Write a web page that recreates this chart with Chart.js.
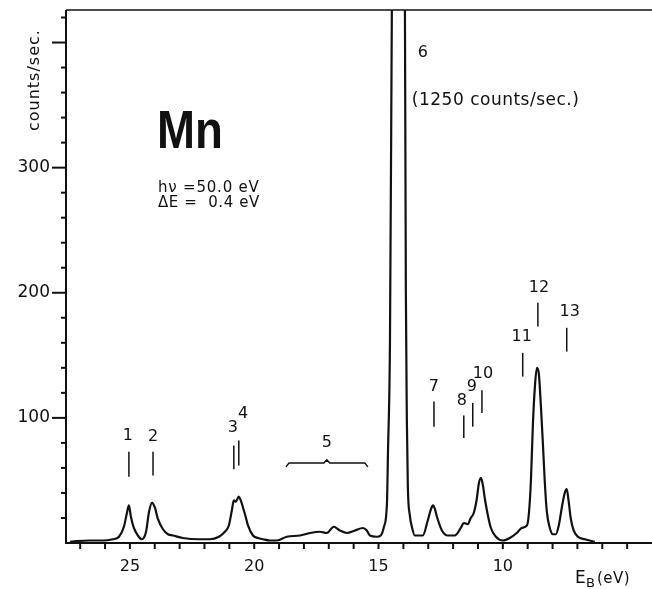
<!DOCTYPE html>
<html>
<head>
<meta charset="utf-8">
<script src="https://cdn.jsdelivr.net/npm/chart.js@4/dist/chart.umd.min.js"></script>
<style>
  html, body { margin: 0; padding: 0; background: #fff; }
  #wrap { width: 652px; height: 589px; }
</style>
</head>
<body>
<div id="wrap"><canvas id="spectrum" width="652" height="589"></canvas></div>
<script>
// Mn photoemission spectrum, hv = 50 eV
const energy = [
  27.41, 27.17, 26.61, 26.20, 25.68, 25.44, 25.24, 25.12, 25.04, 24.96,
  24.84, 24.68, 24.52, 24.35, 24.23, 24.11, 23.99, 23.87, 23.67, 23.47,
  23.27, 22.87, 22.22, 21.78, 21.42, 21.18, 21.02, 20.90, 20.82, 20.74,
  20.62, 20.54, 20.46, 20.33, 20.25, 20.05, 19.85, 19.65, 19.37, 19.09,
  18.69, 18.16, 17.76, 17.36, 17.08, 16.80, 16.55, 16.27, 15.95, 15.63,
  15.47, 15.35, 15.07, 14.91, 14.78, 14.66, 14.62, 14.54, 14.46, 14.20,
  13.94, 13.90, 13.86, 13.82, 13.74, 13.66, 13.54, 13.22, 13.02, 12.89,
  12.81, 12.73, 12.65, 12.45, 12.21, 11.93, 11.69, 11.57, 11.41, 11.29,
  11.17, 11.05, 10.97, 10.88, 10.80, 10.72, 10.60, 10.48, 10.28, 10.00,
  9.72, 9.44, 9.24, 9.03, 8.95, 8.87, 8.79, 8.71, 8.63, 8.55,
  8.47, 8.39, 8.31, 8.23, 8.11, 7.99, 7.87, 7.75, 7.63, 7.51,
  7.43, 7.35, 7.27, 7.15, 6.98, 6.70, 6.30
];
const counts = [
  1, 1.5, 2, 2, 3, 5, 13, 24, 30, 21,
  12, 6, 3, 9, 25, 32, 28, 19, 11, 7,
  6, 4, 3, 3, 5, 9, 14, 26, 34, 33,
  37, 34, 29, 20, 14, 6, 4, 3, 2, 2,
  5, 6, 8, 9, 8, 13, 10, 8, 10, 12,
  10, 6, 5, 6, 13, 32, 72, 160, 440, 1250,
  440, 200, 98, 45, 22, 13, 6, 6, 18, 27,
  30, 27, 21, 10, 6, 6, 12, 16, 15, 20,
  24, 35, 47, 52, 46, 35, 22, 12, 5, 2,
  4, 8, 12, 14, 24, 50, 95, 125, 140, 135,
  110, 80, 48, 25, 12, 7, 7, 14, 28, 40,
  43, 33, 20, 10, 5, 3, 1
];

// axis ranges and ticks
const eMin = 4, eMax = 27.57;
const cMax = 426;
const eLabels = [25, 20, 15, 10];
const cLabels = [100, 200, 300];
const cMajor = [100, 200, 300, 400];

// peak numbering: label anchor (eV, counts) and marker line (eV, from, to)
const peakNames = ['1', '2', '3', '4', '7', '8', '9', '10', '11', '12', '13'];
const nameE     = [25.08, 24.07, 20.86, 20.45, 12.77, 11.65, 11.25, 10.80, 9.24, 8.55, 7.31];
const nameC     = [86, 85, 92, 103, 125, 114, 125, 135, 165, 204, 185];
const markE     = [25.04, 24.07, 20.82, 20.62, 12.77, 11.57, 11.21, 10.84, 9.20, 8.59, 7.43];
const markTop   = [73, 73, 78, 82, 113, 102, 112, 122, 152, 192, 172];
const markBot   = [53, 54, 59, 62, 93, 84, 93, 104, 133, 173, 153];

// band 5 bracket
const band5 = { from: 18.72, to: 15.43, mid: 17.08, level: 64 };

const ink = '#111';

function text(ctx, str, px, py, font, align, base, spacing) {
  ctx.font = font;
  ctx.textAlign = align || 'center';
  ctx.textBaseline = base || 'middle';
  ctx.letterSpacing = spacing || '0px';
  ctx.fillText(str, px, py);
  ctx.letterSpacing = '0px';
}

// keep the plot area fixed: no extra room for tick labels
function fixBox(size) {
  return s => {
    if (s.isHorizontal()) s.height = size; else s.width = size;
    s.paddingTop = s.paddingBottom = s.paddingLeft = s.paddingRight = 0;
  };
}

const decorations = {
  id: 'decorations',
  afterDraw(chart) {
    const { ctx, chartArea: a, scales: { x, y } } = chart;
    ctx.save();
    ctx.strokeStyle = ink;
    ctx.fillStyle = ink;
    ctx.lineCap = 'butt';

    // frame: left axis, bottom axis, top rule
    ctx.lineWidth = 2;
    ctx.beginPath();
    ctx.moveTo(a.left, a.top);
    ctx.lineTo(a.left, a.bottom);
    ctx.lineTo(a.right, a.bottom);
    ctx.stroke();
    ctx.lineWidth = 1.5;
    ctx.beginPath();
    ctx.moveTo(a.left, a.top);
    ctx.lineTo(a.right, a.top);
    ctx.stroke();

    // y ticks, every 20 counts
    ctx.lineWidth = 2;
    for (let c = 20; c <= cMax; c += 20) {
      const py = y.getPixelForValue(c);
      const len = cMajor.includes(c) ? 14 : 5;
      ctx.beginPath();
      ctx.moveTo(a.left - len, py);
      ctx.lineTo(a.left, py);
      ctx.stroke();
    }
    // x ticks, every 1 eV
    for (let e = 5; e <= 27; e++) {
      const px = x.getPixelForValue(e);
      ctx.beginPath();
      ctx.moveTo(px, a.bottom);
      ctx.lineTo(px, a.bottom + 6);
      ctx.stroke();
    }

    // peak markers and numbers
    ctx.lineWidth = 1.5;
    peakNames.forEach((n, i) => {
      const px = x.getPixelForValue(markE[i]);
      ctx.beginPath();
      ctx.moveTo(px, y.getPixelForValue(markTop[i]));
      ctx.lineTo(px, y.getPixelForValue(markBot[i]));
      ctx.stroke();
      text(ctx, n, x.getPixelForValue(nameE[i]), y.getPixelForValue(nameC[i]), '16px "DejaVu Sans"');
    });

    // bracket over band 5
    const b0 = x.getPixelForValue(band5.from);
    const b1 = x.getPixelForValue(band5.to);
    const bm = x.getPixelForValue(band5.mid);
    const by = y.getPixelForValue(band5.level);
    ctx.beginPath();
    ctx.moveTo(b0, by + 4);
    ctx.lineTo(b0 + 3, by);
    ctx.lineTo(bm - 3, by);
    ctx.lineTo(bm, by - 3);
    ctx.lineTo(bm + 3, by);
    ctx.lineTo(b1 - 3, by);
    ctx.lineTo(b1, by + 4);
    ctx.stroke();
    text(ctx, '5', bm, y.getPixelForValue(80), '16px "DejaVu Sans"');

    // peak 6 runs off scale
    text(ctx, '6', x.getPixelForValue(13.22), y.getPixelForValue(392), '16px "DejaVu Sans"');
    text(ctx, '(1250 counts/sec.)', x.getPixelForValue(13.66), y.getPixelForValue(354),
      '17px "DejaVu Sans"', 'left', 'middle', '0.5px');

    // element symbol, condensed bold
    ctx.save();
    ctx.translate(x.getPixelForValue(23.91), y.getPixelForValue(316));
    ctx.scale(0.86, 1);
    text(ctx, 'Mn', 0, 0, 'bold 53px "Liberation Sans", sans-serif', 'left', 'alphabetic');
    ctx.restore();

    // measurement conditions
    text(ctx, 'h\u03bd =50.0 eV', x.getPixelForValue(23.87), y.getPixelForValue(284),
      '15px "DejaVu Sans"', 'left', 'middle', '0.8px');
    text(ctx, '\u0394E =  0.4 eV', x.getPixelForValue(23.87), y.getPixelForValue(272),
      '15px "DejaVu Sans"', 'left', 'middle', '0.6px');

    // y axis title, rotated at the top of the axis
    ctx.save();
    ctx.translate(a.left - 31, y.getPixelForValue(370));
    ctx.rotate(-Math.PI / 2);
    text(ctx, 'counts/sec.', 0, 0, '16px "DejaVu Sans"', 'center', 'middle', '1px');
    ctx.restore();

    // x axis title E_B (eV)
    const tx = 575, ty = a.bottom + 40;
    text(ctx, 'E', tx, ty, '17px "DejaVu Sans"', 'left', 'alphabetic');
    text(ctx, 'B', tx + 11, ty + 4, '13px "DejaVu Sans"', 'left', 'alphabetic');
    text(ctx, '(eV)', tx + 22, ty, '15px "DejaVu Sans"', 'left', 'alphabetic', '0.5px');

    ctx.restore();
  }
};

const points = energy.map((e, i) => ({ x: e, y: counts[i] }));

new Chart(document.getElementById('spectrum'), {
  type: 'line',
  data: {
    datasets: [{
      data: points,
      borderColor: ink,
      borderWidth: 2.2,
      pointRadius: 0,
      cubicInterpolationMode: 'monotone',
      fill: false
    }]
  },
  options: {
    responsive: false,
    animation: false,
    devicePixelRatio: 1,
    layout: { padding: { top: 10, right: 0, bottom: 0, left: 0 } },
    plugins: { legend: { display: false }, tooltip: { enabled: false } },
    scales: {
      x: {
        type: 'linear',
        reverse: true,
        min: eMin,
        max: eMax,
        border: { display: false },
        grid: { display: false, drawTicks: false },
        ticks: {
          stepSize: 1,
          includeBounds: false,
          autoSkip: false,
          maxRotation: 0,
          padding: 14,
          color: ink,
          font: { family: 'DejaVu Sans', size: 16 },
          callback: v => eLabels.includes(v) ? String(v) : ''
        },
        afterFit: fixBox(46)
      },
      y: {
        min: 0,
        max: cMax,
        border: { display: false },
        grid: { display: false, drawTicks: false },
        ticks: {
          stepSize: 20,
          includeBounds: false,
          autoSkip: false,
          padding: 16,
          color: ink,
          font: { family: 'DejaVu Sans', size: 17 },
          callback: v => cLabels.includes(v) ? String(v) : ''
        },
        afterFit: fixBox(66)
      }
    }
  },
  plugins: [decorations]
});
</script>
</body>
</html>
